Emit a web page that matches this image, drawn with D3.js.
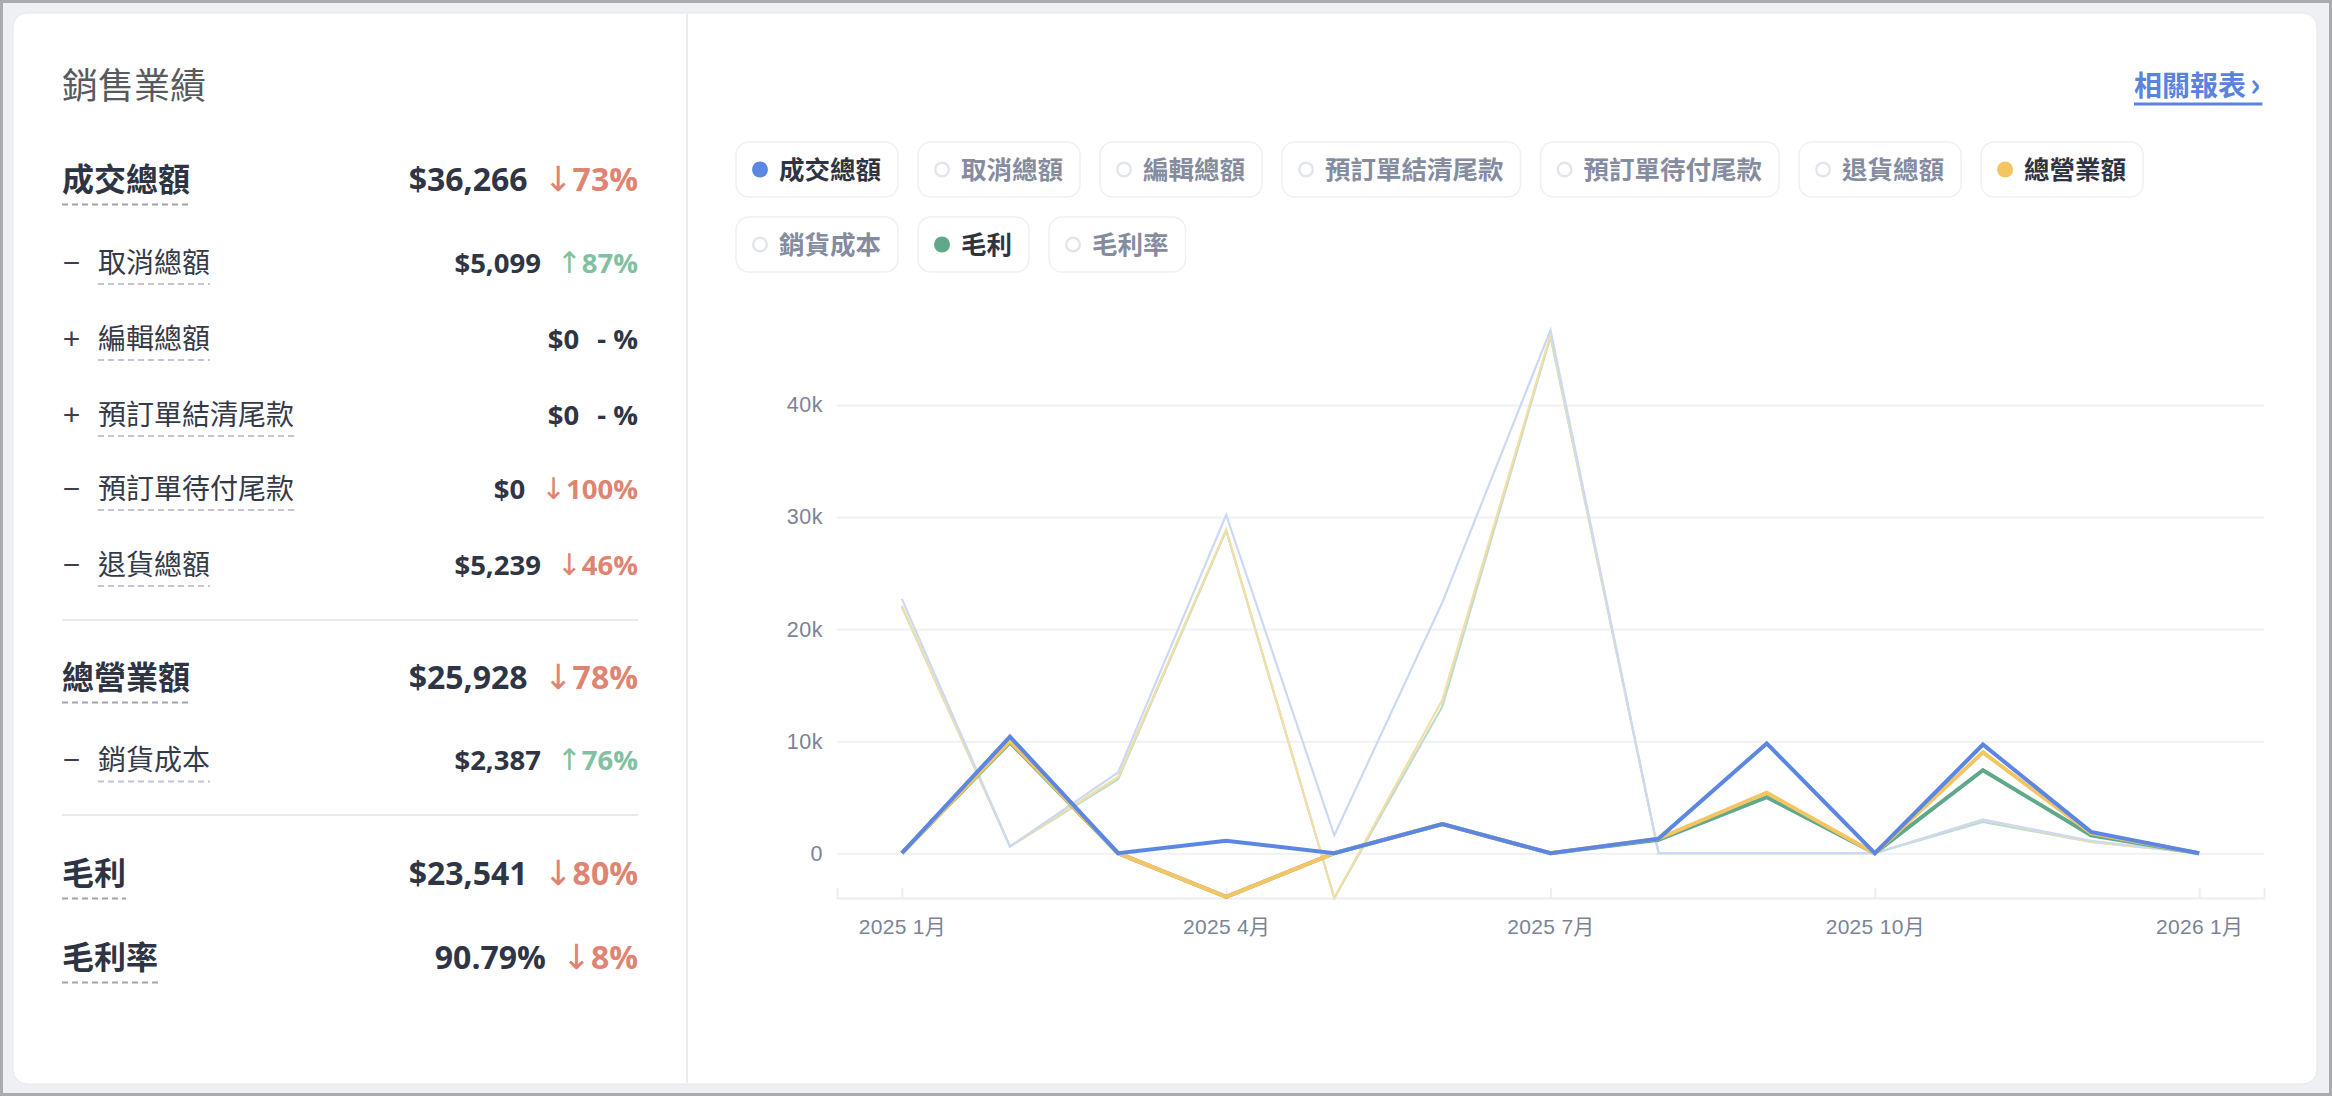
<!doctype html>
<html lang="zh-Hant">
  <head>
    <meta charset="utf-8">
    <title>銷售業績</title>
    <style>
      html, body { margin: 0; padding: 0; }
      body { width: 2332px; height: 1096px; overflow: hidden; background: #eef0f3; }
      svg { display: block; }
    </style>
  </head>
  <body>
    <svg id="board" width="2332" height="1096"></svg>

    <script src="https://d3js.org/d3.v7.min.js"></script>
    <script>
    // ---- summary table (left side) ----
    var summaryLabels  = ["成交總額", "取消總額", "編輯總額", "預訂單結清尾款", "預訂單待付尾款", "退貨總額", "總營業額", "銷貨成本", "毛利", "毛利率"];
    var summarySigns   = ["", "−", "+", "+", "−", "−", "", "−", "", ""];
    var summaryValues  = ["$36,266", "$5,099", "$0", "$0", "$0", "$5,239", "$25,928", "$2,387", "$23,541", "90.79%"];
    var summaryChanges = ["73%", "87%", "- %", "- %", "100%", "46%", "78%", "76%", "80%", "8%"];
    var summaryTrends  = ["down", "up", "none", "none", "down", "down", "down", "up", "down", "down"];

    // ---- legend ----
    var legendLabels = ["成交總額", "取消總額", "編輯總額", "預訂單結清尾款", "預訂單待付尾款", "退貨總額", "總營業額", "銷貨成本", "毛利", "毛利率"];
    var legendActive = [true, false, false, false, false, false, true, false, true, false];

    // ---- monthly series ----
    var months = ["2025-01", "2025-02", "2025-03", "2025-04", "2025-05", "2025-06", "2025-07",
                  "2025-08", "2025-09", "2025-10", "2025-11", "2025-12", "2026-01"];
    var grossCurrent    = [0, 10400, 0, 1100, 0, 2600, 0, 1300, 9800, 0, 9700, 1900, 0];
    var revenueCurrent  = [0, 10000, 0, -3900, 0, 2600, 0, 1300, 5400, 0, 9000, 1800, 0];
    var profitCurrent   = [0, 9900, 0, -3900, 0, 2600, 0, 1200, 5000, 0, 7400, 1600, 0];
    var grossPrevious   = [22700, 600, 7200, 30200, 1600, 22400, 46700, 0, 0, 0, 3000, 1100, 0];
    var revenuePrevious = [22100, 600, 6800, 28900, -4000, 13700, 46300, 0, 0, 0, 3000, 1000, 0];
    var profitPrevious  = [22000, 600, 6600, 28800, -4000, 13100, 46100, 0, 0, 0, 2800, 1000, 0];

    var tickMonths      = ["2025-01", "2025-04", "2025-07", "2025-10", "2026-01"];
    var tickMonthLabels = ["2025 1月", "2025 4月", "2025 7月", "2025 10月", "2026 1月"];
    var yTickValues     = [0, 10000, 20000, 30000, 40000];
    var yTickLabels     = ["0", "10k", "20k", "30k", "40k"];

    var BLUE = "#5b86e2", YELLOW = "#f5c563", GREEN = "#5fa889";
    // previous period, same hues washed out
    var BLUE_SOFT = "#ccd9f3", YELLOW_SOFT = "#f3dea6", GREEN_SOFT = "#bcdccd";
    var cjk = "'Noto Sans CJK TC', 'Noto Sans', sans-serif";
    var num = "'Open Sans', 'Noto Sans CJK TC', sans-serif";

    var svg = d3.select("#board");

    // frame + card
    svg.append("rect")
        .attr("x", 1.5).attr("y", 1.5).attr("width", 2329).attr("height", 1093)
        .attr("fill", "#eef0f3").attr("stroke", "#a9abae").attr("stroke-width", 3);

    svg.append("rect")
        .attr("x", 13).attr("y", 13).attr("width", 2304).attr("height", 1071).attr("rx", 14)
        .attr("fill", "#fff").attr("stroke", "#e4e6ea").attr("stroke-width", 1);

    svg.append("line")
        .attr("x1", 687).attr("x2", 687).attr("y1", 14).attr("y2", 1083)
        .attr("stroke", "#e9ebee").attr("stroke-width", 2);

    // ---- left panel ----
    svg.append("text")
        .attr("x", 62).attr("y", 99)
        .attr("font-family", cjk).attr("font-size", 36).attr("fill", "#575b60")
        .text("銷售業績");

    var rowBaselines = [191, 272.5, 348.5, 424.5, 498.5, 574.5, 689, 770, 885, 969];
    var rightEdge = 638;

    summaryLabels.forEach(function(label, i) {
        var main = summarySigns[i] === "";
        var by = rowBaselines[i];
        var fs = main ? 32 : 27.5;

        if (!main) {
            svg.append("text")
                .attr("x", 71.5).attr("y", by)
                .attr("text-anchor", "middle")
                .attr("font-family", "'Liberation Sans', Arial, sans-serif").attr("font-size", 30)
                .attr("fill", "#3a3f4a")
                .text(summarySigns[i]);
        }

        var lx = main ? 62 : 98;
        var lt = svg.append("text")
            .attr("x", lx).attr("y", by)
            .attr("font-family", cjk)
            .attr("font-weight", main ? 700 : 400)
            .attr("font-size", main ? 32 : 28)
            .attr("fill", main ? "#2e3443" : "#353a48")
            .text(label);
        var lw = lt.node().getComputedTextLength();

        svg.append("line")
            .attr("x1", lx).attr("x2", lx + lw)
            .attr("y1", by + (main ? 13.5 : 11.5)).attr("y2", by + (main ? 13.5 : 11.5))
            .attr("stroke", main ? "#a3a4aa" : "#c5c4d7")
            .attr("stroke-width", 2)
            .attr("stroke-dasharray", "6 4");

        // change (arrow + percent), right aligned
        var trend = summaryTrends[i];
        var color = trend === "down" ? "#df8472" : trend === "up" ? "#82c19f" : "#2f3545";
        var ct = svg.append("text")
            .attr("x", rightEdge).attr("y", by)
            .attr("text-anchor", "end")
            .attr("font-family", num).attr("font-weight", 700).attr("font-size", fs)
            .attr("fill", color);
        if (trend !== "none") {
            ct.append("tspan")
                .attr("font-family", "'DejaVu Sans', sans-serif")
                .attr("font-weight", 400)
                .attr("font-size", fs * 1.08)
                .text(trend === "down" ? "↓" : "↑");
        }
        ct.append("tspan").text(summaryChanges[i]);
        var cw = ct.node().getComputedTextLength();

        svg.append("text")
            .attr("x", rightEdge - cw - (trend === "none" ? 18 : 16)).attr("y", by)
            .attr("text-anchor", "end")
            .attr("font-family", num).attr("font-weight", 700).attr("font-size", fs)
            .attr("fill", "#2f3545")
            .text(summaryValues[i]);
    });

    [620, 815].forEach(function(yy) {
        svg.append("line")
            .attr("x1", 62).attr("x2", rightEdge).attr("y1", yy).attr("y2", yy)
            .attr("stroke", "#e6e9ed").attr("stroke-width", 2);
    });

    // ---- report link ----
    var link = svg.append("text")
        .attr("x", 2134).attr("y", 96)
        .attr("font-family", cjk).attr("font-weight", 700).attr("font-size", 28)
        .attr("fill", "#5a83dd");
    link.append("tspan").text("相關報表");
    link.append("tspan").attr("dx", 4).attr("font-size", 32).text("›");
    var linkW = link.node().getComputedTextLength() + 4;
    svg.append("line")
        .attr("x1", 2134).attr("x2", 2134 + linkW + 2).attr("y1", 104).attr("y2", 104)
        .attr("stroke", "#5a83dd").attr("stroke-width", 3);

    // ---- legend chips ----
    var colorOf = { "成交總額": BLUE, "總營業額": YELLOW, "毛利": GREEN };
    var chipX = 736, chipY = 142, chipH = 55, chipGap = 20, chipMaxX = 2275;
    var legend = svg.append("g");
    legendLabels.forEach(function(name, i) {
        var on = legendActive[i];
        var chip = legend.append("g");
        var rect = chip.append("rect");
        var t = chip.append("text")
            .attr("font-family", cjk).attr("font-weight", 700).attr("font-size", 25.5)
            .attr("fill", on ? "#2f3443" : "#858ca0")
            .text(name);
        var w = 16 + 16 + 11 + t.node().getComputedTextLength() + 17;
        if (chipX + w > chipMaxX) { chipX = 736; chipY += chipH + 20; }
        rect.attr("x", chipX).attr("y", chipY).attr("width", w).attr("height", chipH).attr("rx", 13)
            .attr("fill", "#fff").attr("stroke", "#eff0f3").attr("stroke-width", 1.5);
        chip.append("circle")
            .attr("cx", chipX + 24).attr("cy", chipY + chipH / 2)
            .attr("r", on ? 8 : 6.8)
            .attr("fill", on ? colorOf[name] : "#fff")
            .attr("stroke", on ? "none" : "#e2e5ec")
            .attr("stroke-width", 2.4);
        t.attr("x", chipX + 43).attr("y", chipY + chipH / 2 + 9.5);
        chipX += w + chipGap;
    });

    // ---- line chart ----
    var allValues = [].concat(grossCurrent, revenueCurrent, profitCurrent, grossPrevious, revenuePrevious, profitPrevious);

    var x = d3.scalePoint().domain(months).range([837, 2264]).padding(0.6);
    var y = d3.scaleLinear().domain(d3.extent(allValues)).range([898, 330]);

    // grid
    svg.append("g")
        .attr("transform", "translate(837,0)")
        .call(d3.axisLeft(y).tickValues(yTickValues).tickSize(-(2264 - 837)).tickFormat(""))
        .call(function(g) {
            g.select(".domain").remove();
            g.selectAll(".tick line").attr("stroke", "#f0f1f3").attr("stroke-width", 2);
        });

    // y labels
    svg.append("g")
        .attr("transform", "translate(837,0)")
        .call(d3.axisLeft(y).tickValues(yTickValues).tickSize(0).tickPadding(14)
            .tickFormat(function(d, i) { return yTickLabels[i]; }))
        .call(function(g) {
            g.select(".domain").remove();
            g.selectAll("text")
                .attr("font-family", "'Liberation Sans', Arial, sans-serif")
                .attr("font-size", 21.5).attr("letter-spacing", 0.5)
                .attr("fill", "#7b8396");
        });

    // x axis
    svg.append("g")
        .attr("transform", "translate(0,898)")
        .call(d3.axisBottom(x).tickValues(tickMonths).tickSize(-10).tickSizeOuter(-10).tickPadding(21)
            .tickFormat(function(d, i) { return tickMonthLabels[i]; }))
        .call(function(g) {
            g.select(".domain").attr("stroke", "#eceef1").attr("stroke-width", 2);
            g.selectAll(".tick line").attr("stroke", "#eceef1").attr("stroke-width", 2);
            g.selectAll("text")
                .attr("font-family", "'Liberation Sans', Arial, 'Noto Sans CJK TC', sans-serif")
                .attr("font-size", 21).attr("letter-spacing", 0.3)
                .attr("fill", "#7b8396");
        });

    var line = d3.line()
        .x(function(d, i) { return x(months[i]); })
        .y(function(d) { return y(d); });

    var faint = [
        { data: profitPrevious, color: GREEN_SOFT },
        { data: revenuePrevious, color: YELLOW_SOFT },
        { data: grossPrevious, color: BLUE_SOFT }
    ];
    var bold = [
        { data: profitCurrent, color: GREEN },
        { data: revenueCurrent, color: YELLOW },
        { data: grossCurrent, color: BLUE }
    ];

    svg.append("g").selectAll("path")
        .data(faint)
        .join("path")
        .attr("d", function(d) { return line(d.data); })
        .attr("fill", "none")
        .attr("stroke", function(d) { return d.color; })
        .attr("stroke-width", 2.2)
        .attr("stroke-linejoin", "miter");

    svg.append("g").selectAll("path")
        .data(bold)
        .join("path")
        .attr("d", function(d) { return line(d.data); })
        .attr("fill", "none")
        .attr("stroke", function(d) { return d.color; })
        .attr("stroke-width", 4)
        .attr("stroke-linejoin", "miter");
    </script>
  </body>
</html>
